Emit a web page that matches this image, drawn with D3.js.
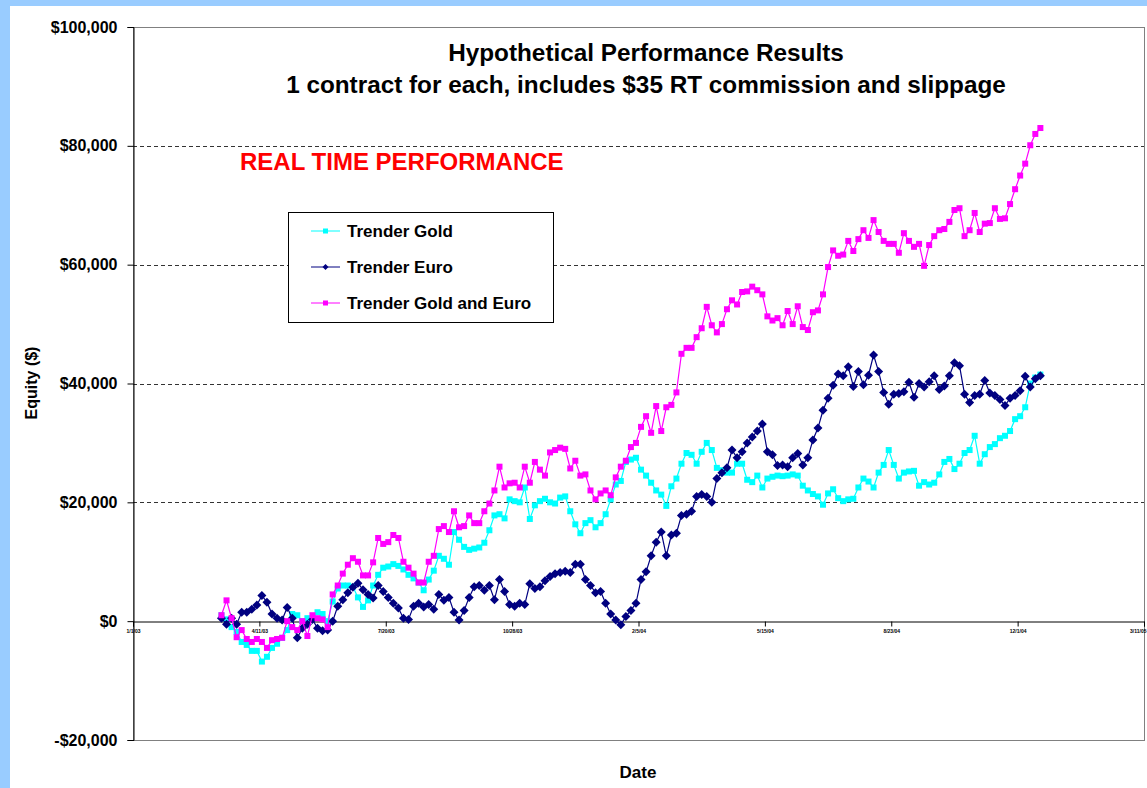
<!DOCTYPE html>
<html>
<head>
<meta charset="utf-8">
<script src="https://cdn.jsdelivr.net/npm/d3@7"></script>
<style>
  html, body { margin: 0; padding: 0; background: #99ccff; }
  svg { display: block; }
  text { font-family: Arial, "Liberation Sans", sans-serif; font-weight: bold; }
</style>
</head>
<body>
<svg id="chart" width="1147" height="788"></svg>
<script>
// naslovi i legenda
var titleLines = ["Hypothetical Performance Results", "1 contract for each, includes $35 RT commission and slippage"];
var banner = "REAL TIME PERFORMANCE";
var seriesNames = ["Trender Gold", "Trender Euro", "Trender Gold and Euro"];
var seriesColors = ["#00ffff", "#000080", "#ff00ff"];
var seriesMarkers = ["square", "diamond", "square"];

// x osa: dani od pocetka, oznake datuma (sitne u originalu)
var xTickDays = [0, 100, 200, 300, 400, 500, 600, 700, 800];
var xTickLabels = ["1/1/03", "4/11/03", "7/20/03", "10/28/03", "2/5/04", "5/15/04", "8/23/04", "12/1/04", "3/11/05"];
var firstDay = 70, dayStep = 4;

// y osa u hiljadama dolara
var yTickValues = [-20, 0, 20, 40, 60, 80, 100];
var yGridValues = [20, 40, 60, 80];

// equity, hiljade $
var goldEquity = [1, 0.3, -1, -1.8, -3.5, -4, -5, -5, -6.8, -6,
  -4.5, -3.8, -2.8, -1.5, 1.2, 1, 0, 0.5, 0.5, 1.5,
  1.2, 0, 3.3, 5.5, 6, 6, 5.8, 4, 2.4, 3.5,
  6, 7.8, 9, 9.2, 9.6, 9.3, 8.7, 7.8, 7.2, 6.5,
  5.2, 7, 8.5, 11, 10.5, 9.5, 15, 13.7, 12.5, 12,
  12.2, 12.4, 13.2, 15.3, 17.8, 18, 17.3, 20.5, 20.2, 20,
  22.5, 17.2, 19.5, 20.2, 20.6, 20, 19.8, 20.8, 21, 18.5,
  16.3, 14.8, 16.5, 17, 15.8, 16.5, 18, 20.5, 23, 23.6,
  26.8, 27.2, 27.5, 25.5, 24.5, 23.3, 22, 21.3, 19.4, 22.7,
  24, 26.5, 28.3, 28, 26.5, 28.5, 30, 28.8, 25.8, 25.4,
  25, 25, 26.5, 26.5, 23.8, 23.4, 24.5, 22.5, 24, 24.3,
  24.5, 24.4, 24.5, 24.7, 24.5, 22.8, 22, 21.4, 21, 19.6,
  21.5, 22.2, 20.7, 20.2, 20.5, 20.6, 22.5, 24, 23.5, 22.5,
  25, 26.3, 28.8, 26.3, 24, 25, 25.2, 25.3, 22.8, 23.4,
  23, 23.3, 24.7, 26.8, 27.3, 25.6, 26.5, 28.3, 28.8, 31.2,
  26.5, 28.1, 29.3, 29.8, 30.8, 31.2, 32, 34, 34.5, 36,
  40, 41, 41.5];

var euroEquity = [0.5, -0.5, 0.5, -0.5, 1.5, 1.5, 2, 2.7, 4.3, 3.2,
  1.2, 0.5, 0.2, 2.3, 0.5, -2.8, -1.2, -0.5, 0.3, -1.2,
  -1.6, -1.5, 0, 2.5, 3.6, 4.8, 5.7, 6.4, 5.3, 4.5,
  3.9, 6, 5, 4, 3, 2.2, 0.5, 0.3, 2.5, 3,
  2.4, 2.8, 2, 4.5, 3.5, 4, 1.5, 0.2, 1.8, 4,
  5.8, 6, 5.2, 6, 3.6, 7, 5, 2.8, 2.5, 3,
  2.8, 6.3, 5.5, 5.8, 6.8, 7.5, 8, 8.2, 8.4, 8.2,
  9.6, 9.6, 7, 6, 4.8, 5, 3, 1.2, 0.2, -0.6,
  0.8, 1.8, 3, 7, 8.3, 11, 13.3, 15, 11, 14.5,
  14.8, 17.8, 18, 18.5, 21, 21.3, 21, 20, 24, 25,
  25.8, 28.8, 27.5, 28.5, 30, 31, 32, 33.2, 28.5, 28,
  26.2, 26.3, 26, 27.5, 28.2, 26.3, 27.5, 30.5, 32.5, 35.5,
  37.5, 39.7, 41.6, 41.3, 42.8, 39.5, 42, 39.8, 41.4, 44.8,
  42, 38.5, 36.5, 38.2, 38.3, 38.6, 40.2, 37.7, 40, 39.4,
  40.3, 41.3, 39, 39.6, 41.3, 43.5, 43, 38.2, 36.8, 38,
  38.2, 40.5, 38.4, 38, 37.3, 36.3, 37.5, 38, 38.8, 41.2,
  39.4, 40.8, 41.3];

var comboEquity = [1, 3.5, 0.5, -2.7, -1.5, -3, -3.5, -3, -3.5, -4.5,
  -3.2, -3, -2.8, 0, -1, -1.5, 0, -2.5, 1, 0.5,
  0.3, -1, 4.5, 6, 8, 9.5, 10.6, 10, 7.7, 7.7,
  9.9, 14, 13, 13.3, 14.5, 14, 10, 9, 8, 6.5,
  6.5, 10, 11, 15.5, 16, 15, 18.5, 15.8, 16, 17.8,
  16.5, 16.5, 18.5, 19.8, 22, 26, 22.5, 23.2, 23.3, 22.5,
  26, 23.3, 26.8, 25.5, 24.5, 28.4, 28.8, 29.2, 29, 25.7,
  27, 24.5, 24.7, 22, 20.5, 21.5, 22, 21.2, 24.2, 26,
  27, 29.3, 30, 32.7, 34.5, 31.7, 36.2, 32, 36, 36.4,
  38.5, 45, 46, 46, 47.8, 49.3, 52.9, 49.8, 48.6, 50,
  52.5, 54, 53.3, 55.4, 55.5, 56.3, 55.7, 55, 51.3, 50.6,
  51, 49.8, 52.2, 50, 53, 49.5, 49, 52, 52.3, 55,
  59.6, 62.4, 61.5, 61.7, 64, 62.3, 64.3, 65.8, 64.5, 67.5,
  65.5, 64, 63.5, 63.5, 62, 65.3, 64, 63, 63.5, 59.8,
  63.3, 64.8, 65.8, 66, 67.2, 69.2, 69.5, 64.8, 65.8, 68.7,
  65.5, 66.9, 67, 69.5, 67.7, 67.8, 70.2, 72.7, 75, 77,
  80.1, 82, 83];

var seriesValues = [goldEquity, euroEquity, comboEquity];

var svg = d3.select("#chart");

// bijela povrsina grafikona
svg.append("rect")
  .attr("x", 10).attr("y", 6)
  .attr("width", 1137).attr("height", 782)
  .attr("fill", "white");

var plot = { left: 133, right: 1144, top: 27, bottom: 740 };

var x = d3.scaleLinear().domain([0, 800]).range([plot.left, plot.right]);
var y = d3.scaleLinear().domain([-20, 100]).range([plot.bottom, plot.top]);

function money(d) {
  return (d < 0 ? "-" : "") + "$" + d3.format(",")(Math.abs(d) * 1000);
}

// okvir plot area
svg.append("rect")
  .attr("x", plot.left + 0.5).attr("y", plot.top + 0.5)
  .attr("width", plot.right - plot.left).attr("height", plot.bottom - plot.top)
  .attr("fill", "none")
  .attr("stroke", "#808080")
  .attr("stroke-width", 1);

// isprekidane linije
svg.append("g")
  .selectAll("line")
  .data(yGridValues)
  .enter().append("line")
  .attr("x1", plot.left).attr("x2", plot.right)
  .attr("y1", function(d) { return Math.round(y(d)) + 0.5; })
  .attr("y2", function(d) { return Math.round(y(d)) + 0.5; })
  .attr("stroke", "#333333")
  .attr("stroke-width", 1)
  .attr("stroke-dasharray", "4,3");

// y osa
var yAxis = d3.axisLeft(y)
  .tickValues(yTickValues)
  .tickSize(6)
  .tickPadding(10)
  .tickFormat(money);

var yg = svg.append("g")
  .attr("transform", "translate(" + (plot.left + 0.5) + ",0)")
  .call(yAxis);
yg.select(".domain").attr("stroke", "black");
yg.selectAll(".tick line").attr("stroke", "black");
yg.selectAll(".tick text")
  .attr("font-size", 16)
  .attr("font-family", "Arial, 'Liberation Sans', sans-serif")
  .attr("font-weight", "bold")
  .attr("fill", "black");

// x osa na nuli
var xAxis = d3.axisBottom(x)
  .tickValues(xTickDays)
  .tickSize(5)
  .tickPadding(3)
  .tickFormat(function(d, i) { return xTickLabels[i]; });

var xg = svg.append("g")
  .attr("transform", "translate(0," + (Math.round(y(0)) + 0.5) + ")")
  .call(xAxis);
xg.select(".domain").attr("stroke", "black");
xg.selectAll(".tick line").attr("stroke", "black");
xg.selectAll(".tick text")
  .attr("font-size", 5)
  .attr("font-family", "Arial, 'Liberation Sans', sans-serif")
  .attr("font-weight", "bold")
  .attr("fill", "black")
  .attr("text-anchor", function(d, i) { return i === xTickDays.length - 1 ? "end" : "middle"; })
  .attr("dx", function(d, i) { return i === xTickDays.length - 1 ? 2 : 0; });

// serije
var line = d3.line()
  .x(function(d, i) { return x(firstDay + i * dayStep); })
  .y(function(d) { return y(d); });

var diamond = "M0,-4.5L4.5,0L0,4.5L-4.5,0Z";

seriesValues.forEach(function(vals, s) {
  var g = svg.append("g").attr("class", "series");
  g.append("path")
    .datum(vals)
    .attr("d", line)
    .attr("fill", "none")
    .attr("stroke", seriesColors[s])
    .attr("stroke-width", 1.2);

  if (seriesMarkers[s] === "square") {
    g.selectAll("rect")
      .data(vals)
      .enter().append("rect")
      .attr("x", function(d, i) { return x(firstDay + i * dayStep) - 3; })
      .attr("y", function(d) { return y(d) - 3; })
      .attr("width", 6).attr("height", 6)
      .attr("fill", seriesColors[s]);
  } else {
    g.selectAll("path.mk")
      .data(vals)
      .enter().append("path")
      .attr("class", "mk")
      .attr("d", diamond)
      .attr("transform", function(d, i) {
        return "translate(" + x(firstDay + i * dayStep) + "," + y(d) + ")";
      })
      .attr("fill", seriesColors[s]);
  }
});

// naslov
svg.append("g")
  .selectAll("text")
  .data(titleLines)
  .enter().append("text")
  .attr("x", 646)
  .attr("y", function(d, i) { return 61 + i * 32; })
  .attr("text-anchor", "middle")
  .attr("font-size", 24.3)
  .attr("fill", "black")
  .text(function(d) { return d; });

svg.append("text")
  .attr("x", 240).attr("y", 170)
  .attr("font-size", 24)
  .attr("fill", "#ff0000")
  .text(banner);

// legenda
var legend = svg.append("g").attr("transform", "translate(288,212)");
legend.append("rect")
  .attr("x", 0.5).attr("y", 0.5)
  .attr("width", 265).attr("height", 110)
  .attr("fill", "white")
  .attr("stroke", "black")
  .attr("stroke-width", 1);

seriesNames.forEach(function(name, s) {
  var ly = 19 + s * 36;
  legend.append("line")
    .attr("x1", 23).attr("x2", 52)
    .attr("y1", ly).attr("y2", ly)
    .attr("stroke", seriesColors[s])
    .attr("stroke-width", 1);
  if (seriesMarkers[s] === "square") {
    legend.append("rect")
      .attr("x", 35).attr("y", ly - 2.5)
      .attr("width", 5).attr("height", 5)
      .attr("fill", seriesColors[s]);
  } else {
    legend.append("path")
      .attr("d", "M0,-3L3,0L0,3L-3,0Z")
      .attr("transform", "translate(37.5," + ly + ")")
      .attr("fill", seriesColors[s]);
  }
  legend.append("text")
    .attr("x", 59).attr("y", ly + 6)
    .attr("font-size", 17)
    .attr("fill", "black")
    .text(name);
});

// naslovi osa
svg.append("text")
  .attr("transform", "translate(37,383) rotate(-90)")
  .attr("text-anchor", "middle")
  .attr("font-size", 16)
  .attr("fill", "black")
  .text("Equity ($)");

svg.append("text")
  .attr("x", 638).attr("y", 778)
  .attr("text-anchor", "middle")
  .attr("font-size", 17)
  .attr("fill", "black")
  .text("Date");
</script>
</body>
</html>
